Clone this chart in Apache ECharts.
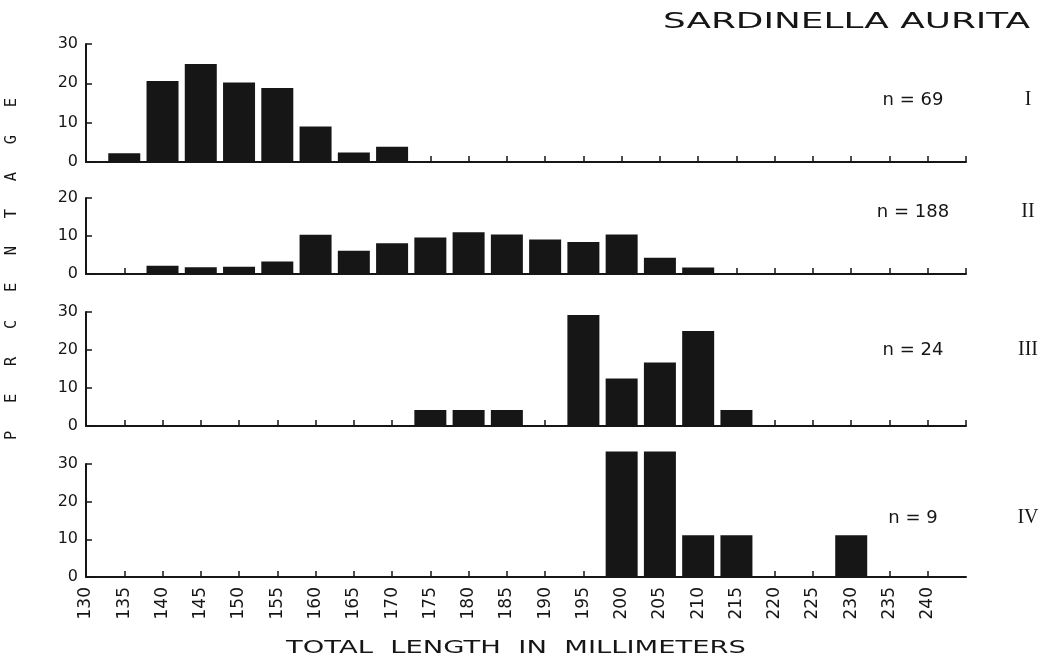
<!DOCTYPE html>
<html>
<head>
<meta charset="utf-8">
<script src="https://cdn.jsdelivr.net/npm/echarts@6/dist/echarts.min.js"></script>
<style>
html,body{margin:0;padding:0;background:#fff;}
#chart{width:1049px;height:666px;}
</style>
</head>
<body>
<div id="chart"></div>
<script>
// ---- data ----
const chartTitle = 'SARDINELLA AURITA';
const xAxisTitle = 'TOTAL  LENGTH  IN  MILLIMETERS';
const yAxisTitle = 'P   E   R   C   E   N   T   A   G   E';
const panelNames = ['I', 'II', 'III', 'IV'];
const sampleLabels = ['n = 69', 'n = 188', 'n = 24', 'n = 9'];
const yMaxes = [30, 20, 30, 30];

const lengthsI = [135, 140, 145, 150, 155, 160, 165, 170];
const pctI     = [2.2, 20.6, 24.9, 20.2, 18.8, 9.0, 2.4, 3.9];

const lengthsII = [140, 145, 150, 155, 160, 165, 170, 175, 180, 185, 190, 195, 200, 205, 210];
const pctII     = [2.2, 1.8, 1.9, 3.3, 10.3, 6.1, 8.1, 9.6, 11.0, 10.4, 9.1, 8.4, 10.4, 4.3, 1.7];

const lengthsIII = [175, 180, 185, 195, 200, 205, 210, 215];
const pctIII     = [4.2, 4.2, 4.2, 29.2, 12.5, 16.7, 25.0, 4.2];

const lengthsIV = [200, 205, 210, 215, 230];
const pctIV     = [33.3, 33.3, 11.1, 11.1, 11.1];

const panels = [
  [lengthsI, pctI],
  [lengthsII, pctII],
  [lengthsIII, pctIII],
  [lengthsIV, pctIV]
];

// ---- layout ----
const gridBoxes = [
  {top: 44, height: 118},
  {top: 198, height: 76},
  {top: 312, height: 114},
  {top: 464, height: 113}
];
const INK = '#161616';
const FONT = 'DejaVu Sans';

const canvas = document.createElement('canvas');
const ctx = canvas.getContext('2d');
function measure(text, size, family) {
  ctx.font = size + 'px "' + family + '"';
  return ctx.measureText(text).width;
}
function stretchedText(text, size, family, x, y, targetWidth, extra) {
  const w = measure(text, size, family);
  return Object.assign({
    type: 'text', x: x, y: y,
    scaleX: targetWidth / w,
    style: {text: text, fontSize: size, fontFamily: family, fill: INK, align: 'left', verticalAlign: 'middle'}
  }, extra || {});
}

const grids = [], xAxes = [], yAxes = [], series = [];
panels.forEach((p, i) => {
  grids.push({left: 86, right: 83, top: gridBoxes[i].top, height: gridBoxes[i].height});
  xAxes.push({
    type: 'value', gridIndex: i, min: 130, max: 245, interval: 5,
    axisLine: {show: true, onZero: false, lineStyle: {color: INK, width: 2}},
    axisTick: {show: true, inside: true, length: 6, lineStyle: {color: INK, width: 1.5}},
    splitLine: {show: false},
    axisLabel: {
      show: i === 3, rotate: 90, margin: 10, fontSize: 17, fontFamily: FONT, color: INK,
      showMaxLabel: false
    }
  });
  yAxes.push({
    type: 'value', gridIndex: i, min: 0, max: yMaxes[i], interval: 10,
    axisLine: {show: true, onZero: false, lineStyle: {color: INK, width: 2}},
    axisTick: {show: true, inside: true, length: 6, lineStyle: {color: INK, width: 1.5}},
    splitLine: {show: false},
    axisLabel: {fontSize: 16, fontFamily: FONT, color: INK, margin: 8}
  });
  series.push({
    type: 'bar', xAxisIndex: i, yAxisIndex: i, barWidth: 32, clip: false,
    itemStyle: {color: INK},
    data: p[0].map((x, k) => [x, p[1][k]])
  });
});

const nLabelY = [100, 212, 350, 518];
const graphics = [
  stretchedText(chartTitle, 22, FONT, 663, 22, 367),
  stretchedText(xAxisTitle, 18, FONT, 286, 648, 460),
  stretchedText(yAxisTitle, 16, 'DejaVu Sans Mono', 12, 440, 342, {rotation: Math.PI / 2})
];
nLabelY.forEach((y, i) => {
  graphics.push({type: 'text', x: 913, y: y,
    style: {text: sampleLabels[i], fontSize: 18, fontFamily: FONT, fill: INK, align: 'center', verticalAlign: 'middle'}});
  graphics.push({type: 'text', x: 1028, y: y,
    style: {text: panelNames[i], fontSize: 20, fontFamily: 'Liberation Serif', fill: INK, align: 'center', verticalAlign: 'middle'}});
});

const chart = echarts.init(document.getElementById('chart'), null, {renderer: 'canvas'});
chart.setOption({
  backgroundColor: '#ffffff',
  animation: false,
  grid: grids,
  xAxis: xAxes,
  yAxis: yAxes,
  series: series,
  graphic: graphics
});
</script>
</body>
</html>
